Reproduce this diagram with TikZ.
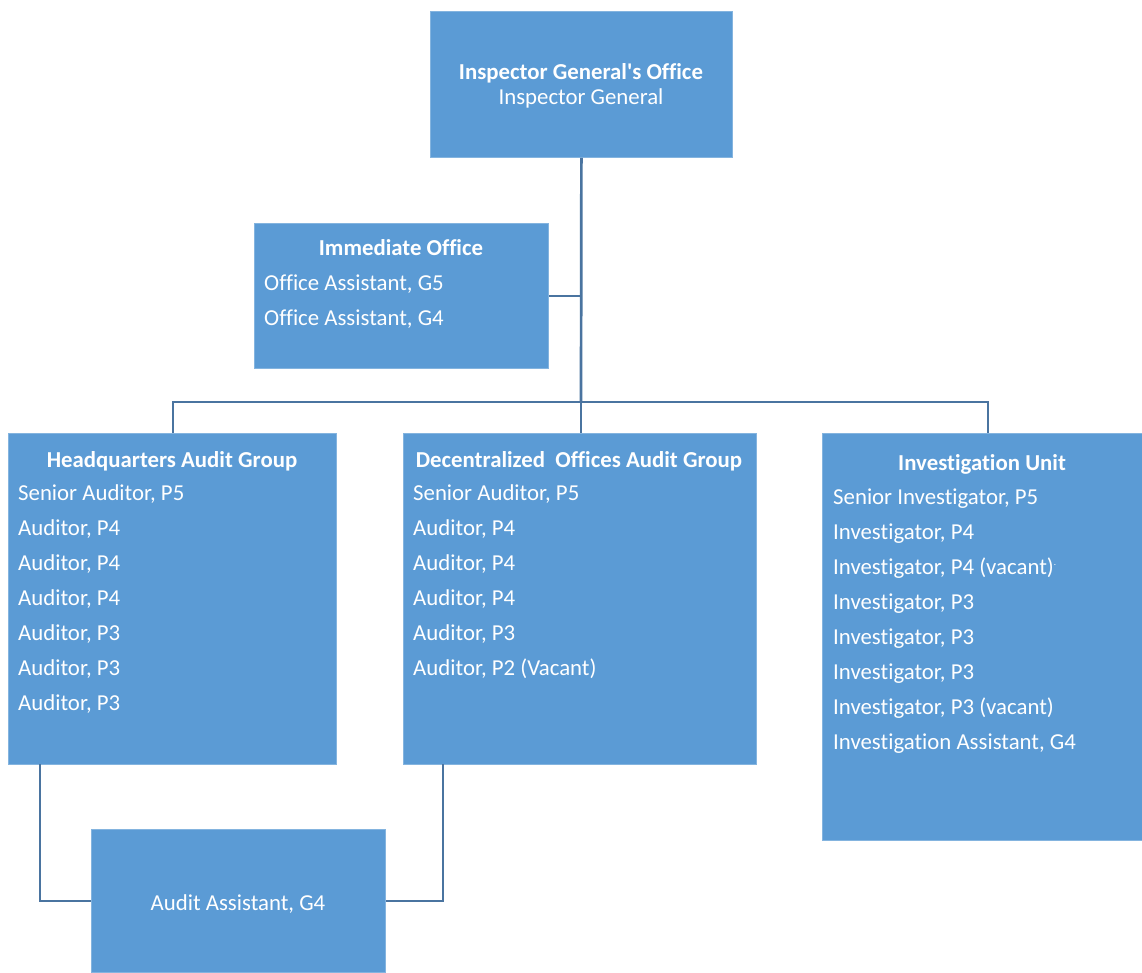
\documentclass[tikz,border=0pt]{standalone}
\usepackage{fontspec}
\setmainfont[Ligatures={TeXOff,NoCommon}]{Carlito}
\definecolor{boxblue}{HTML}{5B9BD5}
\definecolor{linecol}{HTML}{4A74A0}
\begin{document}
\begin{tikzpicture}[x=1pt,y=-1pt,
  box/.style={fill=boxblue, draw=boxblue!75!white, line width=0.8pt, inner sep=0pt, anchor=north west},
  conn/.style={draw=linecol, line width=2.7pt},
  txt/.style={text=white, font=\fontsize{22.8}{27}\selectfont, inner sep=0pt, anchor=base west},
  ttl/.style={text=white, font=\fontsize{22.8}{27}\selectfont\bfseries, inner sep=0pt, anchor=base},
  ctr/.style={text=white, font=\fontsize{22.8}{27}\selectfont, inner sep=0pt, anchor=base}]
\useasboundingbox (0,0) rectangle (1142,972);
% boxes
\node[box, minimum width=302, minimum height=146] (ig) at (430,11) {};
\node[box, minimum width=294, minimum height=145] (io) at (254,223) {};
\node[box, minimum width=328, minimum height=331] (hq) at (8,433) {};
\node[box, minimum width=353, minimum height=331] (dec) at (403,433) {};
\node[box, minimum width=320, minimum height=407] (inv) at (822,433) {};
\node[box, minimum width=294, minimum height=143] (aa) at (91,829) {};
% connectors
\coordinate (bus) at (581,402);
\coordinate (hqtop) at (173,433);
\coordinate (invtop) at (988,433);
\coordinate (hqdrop) at (40,764);
\coordinate (decdrop) at (443,764);
\draw[conn] (ig.south) -- (bus);
\draw[conn] (io.east) -- (io.east -| bus);
\draw[conn] (hqtop) |- (bus) -| (invtop);
\draw[conn] (bus) -- (bus |- dec.north);
\draw[conn] (hqdrop) |- (aa.west);
\draw[conn] (decdrop) |- (aa.east);
% texts
\node[ttl] (igt) at (581,79) {Inspector General's Office};
\node[ctr] (igs) at (581,104) {Inspector General};
\node[ttl] (iot) at (401,255) {Immediate Office};
\node[txt] (io1) at (264,290) {Office Assistant, G5};
\node[txt] (io2) at (264,325) {Office Assistant, G4};
\node[ttl] (hqt) at (172,467) {Headquarters Audit Group};
\node[txt] (hq1) at (18,500) {Senior Auditor, P5};
\node[txt] (hq2) at (18,535) {Auditor, P4};
\node[txt] (hq3) at (18,570) {Auditor, P4};
\node[txt] (hq4) at (18,605) {Auditor, P4};
\node[txt] (hq5) at (18,640) {Auditor, P3};
\node[txt] (hq6) at (18,675) {Auditor, P3};
\node[txt] (hq7) at (18,710) {Auditor, P3};
\node[ttl] (dect) at (579,467) {Decentralized\ \ Offices Audit Group};
\node[txt] (dec1) at (413,500) {Senior Auditor, P5};
\node[txt] (dec2) at (413,535) {Auditor, P4};
\node[txt] (dec3) at (413,570) {Auditor, P4};
\node[txt] (dec4) at (413,605) {Auditor, P4};
\node[txt] (dec5) at (413,640) {Auditor, P3};
\node[txt] (dec6) at (413,675) {Auditor, P2 (Vacant)};
\node[ttl] (invt) at (982,470) {Investigation Unit};
\node[txt] (inv1) at (833,504) {Senior Investigator, P5};
\node[txt] (inv2) at (833,539) {Investigator, P4};
\node[txt] (inv3) at (833,574) {Investigator, P4 (vacant)\raisebox{9pt}{\fontsize{9}{9}\selectfont .}};
\node[txt] (inv4) at (833,609) {Investigator, P3};
\node[txt] (inv5) at (833,644) {Investigator, P3};
\node[txt] (inv6) at (833,679) {Investigator, P3};
\node[txt] (inv7) at (833,714) {Investigator, P3 (vacant)};
\node[txt] (inv8) at (833,749) {Investigation Assistant, G4};
\node[ctr] (aat) at (238,910) {Audit Assistant, G4};
\end{tikzpicture}
\end{document}
